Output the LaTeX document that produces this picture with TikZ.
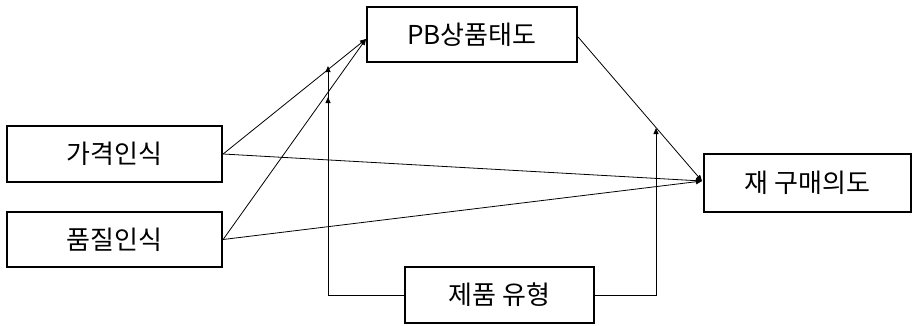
\documentclass[tikz,border=0pt]{standalone}
\usepackage{fontspec}
\setmainfont{Noto Sans CJK KR}
\usetikzlibrary{arrows.meta}
\begin{document}
\begin{tikzpicture}[x=1pt,y=-1pt,
  box/.style={draw,line width=2.2pt,inner sep=0pt,font=\fontsize{26}{30}\selectfont},
  conn/.style={line width=0.8pt},
  arr/.style={conn,-{Triangle[length=6pt,width=5pt]}}]
\useasboundingbox (0,0) rectangle (913,325);
\node[box,minimum width=210pt,minimum height=55pt] (pb) at (472,34.5) {PB상품태도};
\node[box,minimum width=215pt,minimum height=56pt] (price) at (114.5,154) {가격인식};
\node[box,minimum width=215pt,minimum height=55pt] (quality) at (114.5,239.5) {품질인식};
\node[box,minimum width=189pt,minimum height=56pt] (type) at (499.5,295) {제품 유형};
\node[box,minimum width=207pt,minimum height=58pt] (rep) at (807.5,183) {재 구매의도};
\coordinate (pbin) at (366,39);
\coordinate (repin) at (702,181);
\coordinate (m1) at (328,66);
\coordinate (m2) at (328,97);
\coordinate (m3) at (656,128);
\draw[arr] (price.east) -- (pbin);
\draw[arr] (quality.east) -- (pbin);
\draw[arr] (price.east) -- (repin);
\draw[arr] (quality.east) -- (repin);
\draw[arr] (pb.east |- pbin) ++(0,-2) -- (repin);
\draw[arr] (type.west) -| (m1);
\draw[arr] (type.west) -| (m2);
\draw[arr] (type.east) -| (m3);
\end{tikzpicture}
\end{document}
